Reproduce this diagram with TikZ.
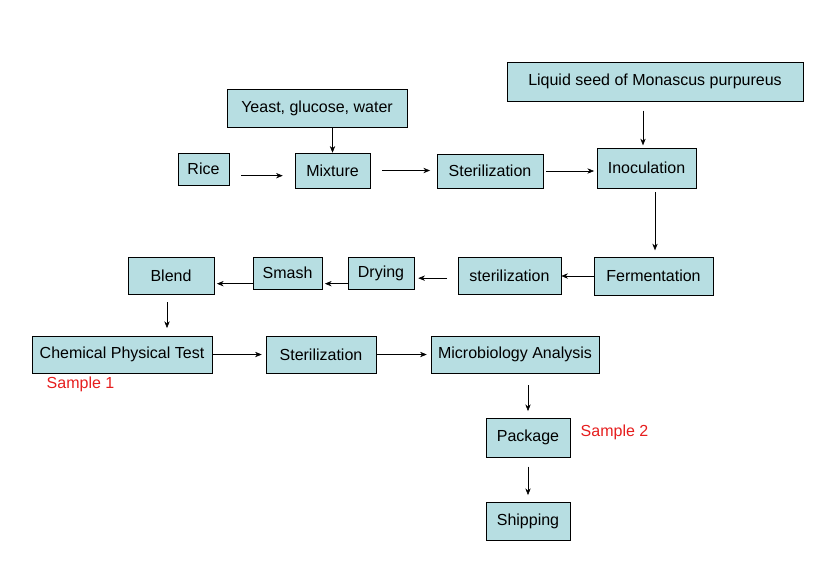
\documentclass[tikz,border=0pt]{standalone}
\usepackage{fontspec}
\setmainfont{Liberation Sans}
\usetikzlibrary{arrows.meta,positioning}
\definecolor{boxteal}{RGB}{183,222,226}
\definecolor{smpred}{RGB}{230,30,30}
\tikzset{
  procbox/.style={draw=black, fill=boxteal, font=\fontsize{12}{14}\selectfont, inner sep=0pt},
  flow/.style={-{Stealth[length=5pt,width=4pt]}, thin},
  tag/.style={font=\fontsize{12}{14}\selectfont, text=smpred}
}
\newcommand{\stepbox}[6]{% name, left, top, right, bottom, text
  \node[procbox, minimum width={(#4-#2)*0.75pt}, minimum height={(#5-#3)*0.75pt}]
    (#1) at ({(#2+#4)/2},{(#3+#5)/2}) {#6};}
\begin{document}
\begin{tikzpicture}[x=0.75pt, y=-0.75pt]
\useasboundingbox (0,0) rectangle (839,568);
% top row
\stepbox{seed}{507}{62}{803}{101}{Liquid seed of Monascus purpureus}
\stepbox{yeast}{227}{89}{407}{127}{Yeast, glucose, water}
\stepbox{rice}{178}{153}{229}{185}{Rice}
\stepbox{mix}{295}{153}{370}{188}{Mixture}
\stepbox{steri}{437}{154}{543}{188}{Sterilization}
\stepbox{inoc}{597}{148}{696}{188}{Inoculation}
% middle row
\stepbox{ferm}{594}{257}{713}{295}{Fermentation}
\stepbox{sterii}{458}{257}{561}{294}{sterilization}
\stepbox{dry}{348}{257}{414}{289}{Drying}
\stepbox{smash}{253}{257}{322}{289}{Smash}
\stepbox{blend}{128}{257}{214}{294}{Blend}
% bottom rows
\stepbox{chem}{32}{336}{212}{373}{Chemical Physical Test}
\stepbox{steriii}{266}{336}{376}{373}{Sterilization}
\stepbox{micro}{431}{336}{599}{373}{Microbiology Analysis}
\stepbox{pack}{486}{418}{570}{457}{Package}
\stepbox{ship}{486}{502}{570}{540}{Shipping}
\node[tag, anchor=west] (s1) at (42,384) {Sample 1};
\node[tag, anchor=west] (s2) at (576,432) {Sample 2};
% arrows
\draw[flow, shorten <=9pt, shorten >=9pt] ([yshift=-5]rice.east) -- ([yshift=-5]rice.east -| mix.west);
\draw[flow, shorten <=9pt, shorten >=5pt] (mix.east) -- (mix.east -| steri.west);
\draw[flow, shorten <=2pt, shorten >=2pt] (steri.east) -- (steri.east -| inoc.west);
\draw[flow] (yeast.south -| mix.north) -- (mix.north);
\draw[flow, shorten <=7pt, shorten >=2pt] (seed.south -| 643,0) -- (643,148);
\draw[flow, shorten <=3pt, shorten >=5pt] (655,188) -- (655,257);
\draw[flow] (ferm.west) -- (sterii.east |- ferm.west);
\draw[flow, shorten <=8pt, shorten >=3pt] ([yshift=-2]sterii.west) -- ([yshift=-2]sterii.west -| dry.east);
\draw[flow, shorten >=2pt] ([yshift=-8]dry.west) -- ([yshift=-8]dry.west -| smash.east);
\draw[flow, shorten >=2pt] ([yshift=-8]smash.west) -- ([yshift=-8]smash.west -| blend.east);
\draw[flow, shorten <=6pt, shorten >=6pt] (blend.south -| 167,0) -- (167,336);
\draw[flow, shorten >=3pt] (chem.east) -- (steriii.west);
\draw[flow, shorten >=3pt] (steriii.east) -- (micro.west);
\draw[flow, shorten <=9pt, shorten >=5pt] (micro.south -| pack.north) -- (pack.north);
\draw[flow, shorten <=7pt, shorten >=5pt] (pack.south) -- (ship.north);
\end{tikzpicture}
\end{document}
